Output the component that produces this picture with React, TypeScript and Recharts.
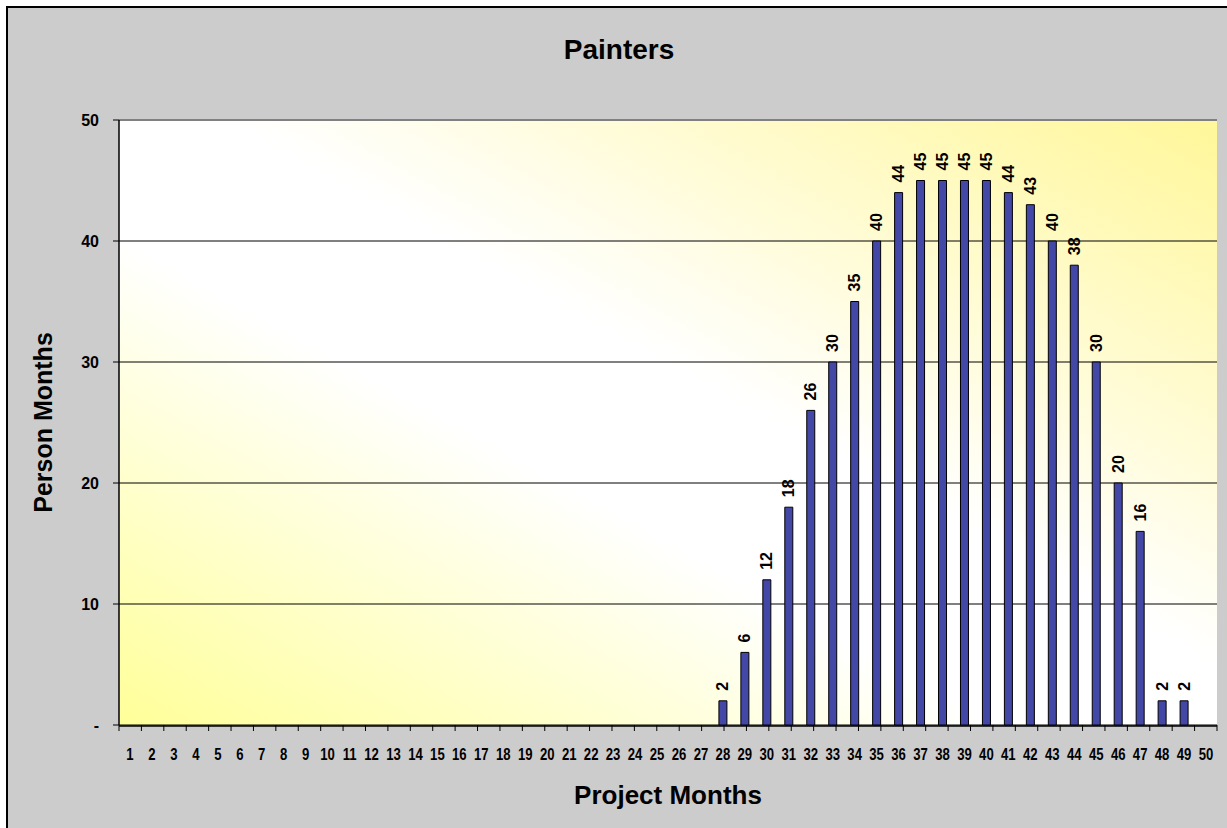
import React from 'react';
import { BarChart, Bar, XAxis, YAxis, CartesianGrid, ReferenceLine, Label } from 'recharts';

const FONT = "Arial, 'Liberation Sans', sans-serif";

const chartTitle = 'Painters';
const xTitle = 'Project Months';
const yTitle = 'Person Months';

const months: string[] = [
  '1','2','3','4','5','6','7','8','9','10','11','12','13','14','15','16','17','18','19','20',
  '21','22','23','24','25','26','27','28','29','30','31','32','33','34','35','36','37','38','39','40',
  '41','42','43','44','45','46','47','48','49','50',
];

const painters: number[] = [
  0,0,0,0,0,0,0,0,0,0,0,0,0,0,0,0,0,0,0,0,0,0,0,0,0,0,0,
  2,6,12,18,26,30,35,40,44,45,45,45,45,44,43,40,38,30,20,16,2,2,
  0,
];

const yTicks: number[] = [0, 10, 20, 30, 40, 50];
const boundaryTicks: number[] = [
  0,1,2,3,4,5,6,7,8,9,10,11,12,13,14,15,16,17,18,19,20,21,22,23,24,25,
  26,27,28,29,30,31,32,33,34,35,36,37,38,39,40,41,42,43,44,45,46,47,48,49,50,
];

const data = months.map((m, i) => ({ month: m, value: painters[i] ? painters[i] : null }));

const XTick = (props: any) => {
  const { x, y, payload } = props;
  return (
    <g transform={`translate(${x},${y + 34})`}>
      <text
        transform="scale(0.82,1)"
        textAnchor="middle"
        fontFamily={FONT}
        fontWeight="bold"
        fontSize={16}
        fill="#000"
      >
        {payload.value}
      </text>
    </g>
  );
};

const BoundaryTick = (props: any) => {
  const { x, y } = props;
  return <line x1={x} y1={y} x2={x} y2={y + 6} stroke="#000" strokeWidth={1} />;
};

const BarLabel = (props: any) => {
  const { x, y, width, value } = props;
  if (!value) return null;
  const cx = x + width / 2;
  const cy = y - 10;
  return (
    <text
      transform={`translate(${cx},${cy}) rotate(-90)`}
      textAnchor="start"
      dominantBaseline="central"
      fontFamily={FONT}
      fontWeight="bold"
      fontSize={16}
      fill="#000"
    >
      {value}
    </text>
  );
};

const YTitle = (props: any) => {
  const vb = props.viewBox || {};
  const cy = vb.y + vb.height / 2;
  return (
    <text
      x={35}
      y={cy}
      transform={`rotate(-90, 35, ${cy})`}
      textAnchor="middle"
      dominantBaseline="central"
      fontFamily={FONT}
      fontWeight="bold"
      fontSize={25}
      fill="#000"
    >
      {yTitle}
    </text>
  );
};

const XTitle = (props: any) => {
  const vb = props.viewBox || {};
  const cx = vb.x + vb.width / 2;
  return (
    <text
      x={cx}
      y={vb.y + 78}
      textAnchor="middle"
      fontFamily={FONT}
      fontWeight="bold"
      fontSize={26}
      fill="#000"
    >
      {xTitle}
    </text>
  );
};

export default function App() {
  return (
    <div
      style={{
        position: 'absolute',
        left: 6,
        top: 6,
        width: 1221,
        height: 822,
        boxSizing: 'border-box',
        borderTop: '2px solid #000',
        borderLeft: '2px solid #000',
        background: '#CCCCCC',
        overflow: 'hidden',
      }}
    >
      <svg width={0} height={0} style={{ position: 'absolute' }}>
        <defs>
          <linearGradient id="plotBg" x1="0" y1="1" x2="1" y2="0">
            <stop offset="0" stopColor="#FFFF99" />
            <stop offset="0.4" stopColor="#FFFFFF" />
            <stop offset="0.55" stopColor="#FFFFFF" />
            <stop offset="1" stopColor="#FFF799" />
          </linearGradient>
        </defs>
      </svg>
      <div
        style={{
          position: 'absolute',
          left: 0,
          top: 28,
          width: 1222,
          textAlign: 'center',
          fontFamily: FONT,
          fontWeight: 'bold',
          fontSize: 28,
          lineHeight: '28px',
          color: '#000',
        }}
      >
        {chartTitle}
      </div>
      <div style={{ position: 'absolute', left: 0, top: 0 }}>
        <BarChart
          width={1236}
          height={836}
          data={data}
          margin={{ top: 112, right: 27, bottom: 117, left: 0 }}
          barSize={8}
        >
          <CartesianGrid
            vertical={false}
            stroke="#000"
            strokeWidth={1}
            fill="url(#plotBg)"
            fillOpacity={1}
          />
          <XAxis
            xAxisId={0}
            type="number"
            domain={[0, 50]}
            ticks={boundaryTicks}
            interval={0}
            tick={<BoundaryTick />}
            tickLine={false}
            tickSize={0}
            tickMargin={0}
            axisLine={false}
            height={1}
          />
          <XAxis
            xAxisId="main"
            dataKey="month"
            interval={0}
            tickLine={false}
            tickSize={0}
            tickMargin={0}
            axisLine={{ stroke: '#000', strokeWidth: 1.5 }}
            tick={<XTick />}
            height={1}
          >
            <Label content={<XTitle />} />
          </XAxis>
          <YAxis
            domain={[0, 50]}
            ticks={yTicks}
            interval={0}
            width={111}
            tickSize={6}
            tickMargin={14}
            tickLine={{ stroke: '#000' }}
            axisLine={{ stroke: '#000', strokeWidth: 1.5 }}
            tick={{ fill: '#000', fontSize: 16, fontWeight: 'bold', fontFamily: FONT }}
            tickFormatter={(v: number) => (v === 0 ? '-' : String(v))}
          >
            <Label content={<YTitle />} />
          </YAxis>
          <ReferenceLine xAxisId={0} y={50} stroke="#808080" strokeWidth={2} />
          <ReferenceLine xAxisId={0} x={50} stroke="#808080" strokeWidth={2} />
          <Bar
            xAxisId="main"
            dataKey="value"
            fill="#4347A6"
            stroke="#000"
            strokeWidth={1}
            isAnimationActive={false}
            label={<BarLabel />}
          />
        </BarChart>
      </div>
    </div>
  );
}
